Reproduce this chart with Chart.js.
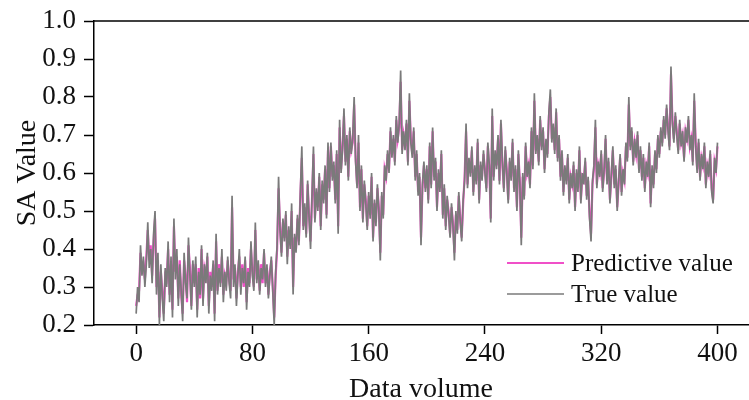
<!DOCTYPE html>
<html>
<head>
<meta charset="utf-8">
<script src="https://cdn.jsdelivr.net/npm/chart.js@4.4.1/dist/chart.umd.min.js"></script>
<style>
html,body{margin:0;padding:0;background:#fff;}
#wrap{position:relative;width:749px;height:400px;}
</style>
</head>
<body>
<div id="wrap"><canvas id="c" width="749" height="400"></canvas></div>
<script>
const xTicks = [0, 80, 160, 240, 320, 400];
const yTicks = [0.2, 0.3, 0.4, 0.5, 0.6, 0.7, 0.8, 0.9, 1.0];
const seriesNames = ["Predictive value", "True value"];

const trueValues = [
0.23,0.30,0.26,0.41,0.33,0.38,0.30,0.36,0.47,0.35,0.40,0.31,0.44,0.50,0.28,0.39,0.20,0.36,0.27,0.21,
0.35,0.30,0.42,0.26,0.38,0.22,0.48,0.32,0.40,0.25,0.36,0.29,0.21,0.39,0.31,0.27,0.43,0.33,0.24,0.37,
0.30,0.38,0.22,0.34,0.28,0.41,0.25,0.36,0.31,0.39,0.23,0.33,0.29,0.37,0.21,0.44,0.28,0.35,0.30,0.40,
0.26,0.34,0.29,0.38,0.31,0.27,0.54,0.30,0.36,0.25,0.33,0.40,0.28,0.35,0.31,0.38,0.24,0.34,0.30,0.42,
0.33,0.29,0.47,0.31,0.37,0.28,0.35,0.32,0.40,0.30,0.36,0.27,0.33,0.38,0.29,0.20,0.34,0.41,0.59,0.45,
0.38,0.48,0.42,0.50,0.36,0.46,0.40,0.52,0.28,0.44,0.39,0.49,0.41,0.55,0.67,0.45,0.52,0.43,0.58,0.48,
0.40,0.54,0.67,0.47,0.56,0.50,0.60,0.45,0.58,0.52,0.62,0.48,0.68,0.55,0.68,0.58,0.63,0.52,0.66,0.44,
0.74,0.60,0.66,0.77,0.62,0.70,0.58,0.72,0.65,0.69,0.80,0.63,0.56,0.70,0.50,0.62,0.47,0.58,0.52,0.45,
0.55,0.48,0.60,0.42,0.53,0.46,0.57,0.50,0.37,0.55,0.48,0.62,0.58,0.66,0.60,0.72,0.64,0.70,0.62,0.75,
0.68,0.73,0.87,0.65,0.71,0.66,0.74,0.62,0.81,0.68,0.64,0.72,0.58,0.66,0.54,0.60,0.41,0.57,0.63,0.55,
0.62,0.52,0.68,0.56,0.72,0.58,0.64,0.50,0.61,0.55,0.66,0.48,0.57,0.45,0.54,0.49,0.43,0.52,0.46,0.37,
0.50,0.44,0.55,0.47,0.42,0.53,0.58,0.73,0.56,0.64,0.59,0.67,0.54,0.62,0.57,0.69,0.52,0.63,0.58,0.66,
0.60,0.55,0.68,0.62,0.47,0.77,0.58,0.66,0.61,0.70,0.57,0.74,0.63,0.55,0.67,0.60,0.52,0.64,0.58,0.69,
0.55,0.62,0.50,0.66,0.57,0.41,0.60,0.53,0.68,0.59,0.63,0.56,0.72,0.61,0.81,0.65,0.70,0.62,0.75,0.66,
0.72,0.60,0.69,0.64,0.76,0.82,0.68,0.73,0.65,0.77,0.63,0.70,0.58,0.66,0.54,0.62,0.57,0.65,0.52,0.60,
0.56,0.63,0.50,0.61,0.55,0.67,0.52,0.60,0.57,0.64,0.53,0.59,0.48,0.42,0.58,0.62,0.74,0.56,0.63,0.59,
0.66,0.55,0.61,0.70,0.57,0.64,0.52,0.60,0.67,0.56,0.62,0.50,0.58,0.65,0.54,0.61,0.57,0.68,0.63,0.80,
0.66,0.72,0.62,0.69,0.64,0.71,0.60,0.67,0.58,0.65,0.55,0.63,0.59,0.68,0.51,0.62,0.56,0.66,0.60,0.70,
0.64,0.72,0.67,0.75,0.69,0.78,0.71,0.66,0.88,0.73,0.68,0.76,0.70,0.65,0.74,0.67,0.71,0.63,0.72,0.68,
0.75,0.66,0.70,0.62,0.81,0.67,0.60,0.69,0.58,0.65,0.61,0.68,0.56,0.63,0.59,0.66,0.55,0.52,0.64,0.60,
0.68];

const predictiveValues = [
0.25,0.28,0.29,0.39,0.35,0.36,0.32,0.38,0.45,0.37,0.41,0.33,0.42,0.48,0.30,0.37,0.22,0.34,0.29,0.23,
0.33,0.32,0.40,0.28,0.36,0.24,0.46,0.34,0.38,0.27,0.37,0.28,0.23,0.37,0.33,0.26,0.41,0.35,0.25,0.36,
0.31,0.36,0.24,0.35,0.27,0.40,0.27,0.35,0.33,0.38,0.25,0.34,0.30,0.36,0.23,0.42,0.29,0.36,0.31,0.38,
0.28,0.33,0.31,0.37,0.32,0.29,0.51,0.32,0.35,0.27,0.34,0.38,0.30,0.36,0.30,0.37,0.26,0.35,0.31,0.40,
0.34,0.30,0.45,0.32,0.36,0.29,0.36,0.31,0.39,0.31,0.35,0.28,0.34,0.37,0.30,0.22,0.33,0.40,0.56,0.46,
0.39,0.47,0.43,0.49,0.38,0.45,0.41,0.50,0.30,0.43,0.40,0.48,0.42,0.54,0.64,0.46,0.51,0.44,0.57,0.49,
0.42,0.53,0.65,0.48,0.55,0.51,0.59,0.46,0.57,0.53,0.61,0.49,0.66,0.56,0.67,0.59,0.62,0.53,0.65,0.46,
0.72,0.61,0.67,0.75,0.63,0.69,0.59,0.71,0.66,0.68,0.78,0.64,0.57,0.68,0.51,0.61,0.48,0.57,0.53,0.46,
0.54,0.49,0.59,0.43,0.52,0.47,0.56,0.51,0.39,0.54,0.49,0.61,0.59,0.65,0.61,0.71,0.65,0.69,0.63,0.74,
0.69,0.72,0.84,0.66,0.70,0.67,0.73,0.63,0.79,0.69,0.65,0.71,0.59,0.65,0.55,0.59,0.43,0.56,0.62,0.56,
0.61,0.53,0.67,0.57,0.71,0.59,0.63,0.51,0.60,0.56,0.65,0.49,0.56,0.46,0.53,0.50,0.44,0.51,0.47,0.39,
0.49,0.45,0.54,0.48,0.43,0.52,0.59,0.71,0.57,0.63,0.60,0.66,0.55,0.61,0.58,0.68,0.53,0.62,0.59,0.65,
0.61,0.56,0.67,0.61,0.48,0.75,0.59,0.65,0.62,0.69,0.58,0.73,0.62,0.56,0.66,0.61,0.53,0.63,0.59,0.68,
0.56,0.61,0.51,0.65,0.58,0.43,0.59,0.54,0.67,0.60,0.62,0.57,0.71,0.62,0.79,0.66,0.69,0.63,0.74,0.67,
0.71,0.61,0.68,0.65,0.75,0.80,0.69,0.72,0.66,0.76,0.64,0.69,0.59,0.65,0.55,0.61,0.58,0.64,0.53,0.59,
0.57,0.62,0.51,0.60,0.56,0.66,0.53,0.59,0.58,0.63,0.54,0.58,0.49,0.44,0.57,0.61,0.72,0.57,0.62,0.60,
0.65,0.56,0.60,0.69,0.58,0.63,0.53,0.59,0.66,0.57,0.61,0.51,0.57,0.64,0.55,0.60,0.58,0.67,0.64,0.78,
0.67,0.71,0.63,0.68,0.65,0.70,0.61,0.66,0.59,0.64,0.56,0.62,0.60,0.67,0.52,0.61,0.57,0.65,0.61,0.69,
0.65,0.71,0.68,0.74,0.70,0.77,0.72,0.67,0.86,0.74,0.69,0.75,0.71,0.66,0.73,0.68,0.70,0.64,0.71,0.69,
0.74,0.67,0.69,0.63,0.79,0.68,0.61,0.68,0.59,0.64,0.62,0.67,0.57,0.62,0.60,0.65,0.56,0.53,0.63,0.61,
0.67];

const PINK = '#f050c8';
const GRAY = '#7a7a7a';
const FONT = '"Liberation Serif", "Times New Roman", serif';

const toPoints = arr => arr.map((v, i) => ({x: i, y: v}));

const frameAndLegend = {
  id: 'frameAndLegend',
  afterDraw(chart) {
    const ctx = chart.ctx;
    const a = chart.chartArea;
    ctx.save();
    ctx.strokeStyle = '#000';
    ctx.lineWidth = 1.5;
    ctx.beginPath();
    ctx.moveTo(a.left, a.top);
    ctx.lineTo(a.right + 2, a.top);
    ctx.stroke();
    const items = [
      {label: seriesNames[0], color: PINK, w: 2.2, y: 263},
      {label: seriesNames[1], color: GRAY, w: 1.3, y: 294}
    ];
    ctx.font = '25px ' + FONT;
    ctx.textBaseline = 'middle';
    ctx.fillStyle = '#111';
    items.forEach(it => {
      ctx.strokeStyle = it.color;
      ctx.lineWidth = it.w;
      ctx.beginPath();
      ctx.moveTo(507, it.y);
      ctx.lineTo(564, it.y);
      ctx.stroke();
      ctx.fillText(it.label, 571, it.y + 1);
    });
    ctx.restore();
  }
};

new Chart(document.getElementById('c'), {
  type: 'line',
  data: {
    datasets: [
      {label: seriesNames[1], data: toPoints(trueValues), borderColor: GRAY, borderWidth: 1.7, pointRadius: 0, tension: 0, order: 1},
      {label: seriesNames[0], data: toPoints(predictiveValues), borderColor: PINK, borderWidth: 2.2, pointRadius: 0, tension: 0, order: 2}
    ]
  },
  options: {
    responsive: false,
    animation: false,
    events: [],
    layout: {padding: {top: 21, right: 1, left: 0, bottom: 0}},
    plugins: {legend: {display: false}, tooltip: {enabled: false}},
    scales: {
      x: {
        type: 'linear',
        min: -29,
        max: 421,
        afterBuildTicks: s => { s.ticks = xTicks.map(v => ({value: v})); },
        afterFit: s => { s.height = 75; s.paddingLeft = 0; s.paddingRight = 0; },
        grid: {drawOnChartArea: false, drawTicks: true, tickLength: 9, color: '#000', tickWidth: 1.5},
        border: {display: true, color: '#000', width: 1.5},
        ticks: {color: '#111', font: {family: FONT, size: 27}, padding: 4, maxRotation: 0},
        title: {display: true, text: 'Data volume', color: '#111', font: {family: FONT, size: 28}, padding: {top: 0, bottom: -6}}
      },
      y: {
        type: 'linear',
        min: 0.2,
        max: 1.0,
        afterBuildTicks: s => { s.ticks = yTicks.map(v => ({value: v})); },
        afterFit: s => { s.width = 94; s.paddingTop = 0; s.paddingBottom = 0; },
        grid: {drawOnChartArea: false, drawTicks: true, tickLength: 10, color: '#000', tickWidth: 1.5},
        border: {display: true, color: '#000', width: 1.5},
        ticks: {color: '#111', font: {family: FONT, size: 27}, padding: 8, callback: v => v.toFixed(1)},
        title: {display: true, text: 'SA Value', color: '#111', font: {family: FONT, size: 28}, padding: {top: 11, bottom: 0}}
      }
    }
  },
  plugins: [frameAndLegend]
});
</script>
</body>
</html>
